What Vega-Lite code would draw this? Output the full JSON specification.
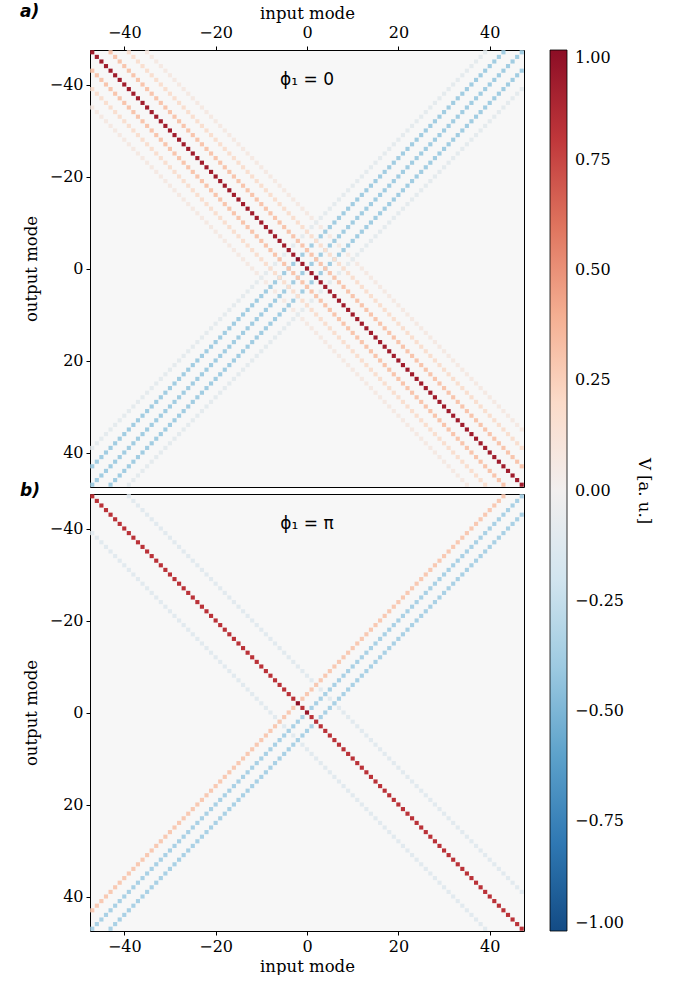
{
"$schema":"https://vega.github.io/schema/vega-lite/v6.json",
"padding":{"left":19,"top":2,"right":12,"bottom":0},
"bounds":"flush",
"spacing":7,
"background":"white",
"config":{
"view":{"fill":"#f7f7f7","stroke":"#000000","strokeWidth":1},
"axis":{"labelFont":"DejaVu Serif","titleFont":"DejaVu Serif","labelFontSize":16,"titleFontSize":16.5,"titleFontWeight":"normal","labelColor":"#000","titleColor":"#000","tickColor":"#000","tickSize":4,"tickWidth":1,"domain":false,"grid":false,"labelPadding":3,"titlePadding":4},
"legend":{"labelFont":"DejaVu Serif","labelFontSize":16,"labelColor":"#000","titleFont":"DejaVu Serif","titleFontSize":16.5,"titleFontWeight":"normal","titleColor":"#000","padding":0}
},
"datasets":{
"a":[
{"i":-35,"o":-47,"v":0.06},{"i":-34,"o":-46,"v":0.06},{"i":-33,"o":-45,"v":0.06},{"i":-32,"o":-44,"v":0.06},{"i":-31,"o":-43,"v":0.06},{"i":-30,"o":-42,"v":0.06},{"i":-29,"o":-41,"v":0.06},{"i":-28,"o":-40,"v":0.06},{"i":-27,"o":-39,"v":0.06},{"i":-26,"o":-38,"v":0.06},{"i":-25,"o":-37,"v":0.06},{"i":-24,"o":-36,"v":0.06},{"i":-23,"o":-35,"v":0.06},{"i":-22,"o":-34,"v":0.06},{"i":-21,"o":-33,"v":0.06},{"i":-20,"o":-32,"v":0.06},{"i":-19,"o":-31,"v":0.06},{"i":-18,"o":-30,"v":0.06},{"i":-17,"o":-29,"v":0.06},{"i":-16,"o":-28,"v":0.06},{"i":-15,"o":-27,"v":0.06},{"i":-14,"o":-26,"v":0.06},{"i":-13,"o":-25,"v":0.06},{"i":-12,"o":-24,"v":0.06},{"i":-11,"o":-23,"v":0.06},{"i":-10,"o":-22,"v":0.06},{"i":-9,"o":-21,"v":0.06},{"i":-8,"o":-20,"v":0.06},{"i":-7,"o":-19,"v":0.06},{"i":-6,"o":-18,"v":0.06},{"i":-5,"o":-17,"v":0.06},{"i":-4,"o":-16,"v":0.06},{"i":-3,"o":-15,"v":0.06},{"i":-2,"o":-14,"v":0.06},{"i":-1,"o":-13,"v":0.06},{"i":0,"o":-12,"v":0.06},{"i":1,"o":-11,"v":0.06},{"i":2,"o":-10,"v":0.06},{"i":3,"o":-9,"v":0.06},{"i":4,"o":-8,"v":0.06},{"i":5,"o":-7,"v":0.06},{"i":6,"o":-6,"v":0.06},{"i":7,"o":-5,"v":0.06},{"i":8,"o":-4,"v":0.06},{"i":9,"o":-3,"v":0.06},{"i":10,"o":-2,"v":0.06},{"i":11,"o":-1,"v":0.06},{"i":12,"o":0,"v":0.06},{"i":13,"o":1,"v":0.06},{"i":14,"o":2,"v":0.06},{"i":15,"o":3,"v":0.06},{"i":16,"o":4,"v":0.06},{"i":17,"o":5,"v":0.06},{"i":18,"o":6,"v":0.06},{"i":19,"o":7,"v":0.06},{"i":20,"o":8,"v":0.06},{"i":21,"o":9,"v":0.06},{"i":22,"o":10,"v":0.06},{"i":23,"o":11,"v":0.06},{"i":24,"o":12,"v":0.06},{"i":25,"o":13,"v":0.06},{"i":26,"o":14,"v":0.06},{"i":27,"o":15,"v":0.06},{"i":28,"o":16,"v":0.06},{"i":29,"o":17,"v":0.06},{"i":30,"o":18,"v":0.06},{"i":31,"o":19,"v":0.06},{"i":32,"o":20,"v":0.06},{"i":33,"o":21,"v":0.06},{"i":34,"o":22,"v":0.06},{"i":35,"o":23,"v":0.06},{"i":36,"o":24,"v":0.06},{"i":37,"o":25,"v":0.06},{"i":38,"o":26,"v":0.06},{"i":39,"o":27,"v":0.06},{"i":40,"o":28,"v":0.06},{"i":41,"o":29,"v":0.06},{"i":42,"o":30,"v":0.06},{"i":43,"o":31,"v":0.06},{"i":44,"o":32,"v":0.06},{"i":45,"o":33,"v":0.06},{"i":46,"o":34,"v":0.06},{"i":47,"o":35,"v":0.06},
{"i":-47,"o":-35,"v":0.06},{"i":-46,"o":-34,"v":0.06},{"i":-45,"o":-33,"v":0.06},{"i":-44,"o":-32,"v":0.06},{"i":-43,"o":-31,"v":0.06},{"i":-42,"o":-30,"v":0.06},{"i":-41,"o":-29,"v":0.06},{"i":-40,"o":-28,"v":0.06},{"i":-39,"o":-27,"v":0.06},{"i":-38,"o":-26,"v":0.06},{"i":-37,"o":-25,"v":0.06},{"i":-36,"o":-24,"v":0.06},{"i":-35,"o":-23,"v":0.06},{"i":-34,"o":-22,"v":0.06},{"i":-33,"o":-21,"v":0.06},{"i":-32,"o":-20,"v":0.06},{"i":-31,"o":-19,"v":0.06},{"i":-30,"o":-18,"v":0.06},{"i":-29,"o":-17,"v":0.06},{"i":-28,"o":-16,"v":0.06},{"i":-27,"o":-15,"v":0.06},{"i":-26,"o":-14,"v":0.06},{"i":-25,"o":-13,"v":0.06},{"i":-24,"o":-12,"v":0.06},{"i":-23,"o":-11,"v":0.06},{"i":-22,"o":-10,"v":0.06},{"i":-21,"o":-9,"v":0.06},{"i":-20,"o":-8,"v":0.06},{"i":-19,"o":-7,"v":0.06},{"i":-18,"o":-6,"v":0.06},{"i":-17,"o":-5,"v":0.06},{"i":-16,"o":-4,"v":0.06},{"i":-15,"o":-3,"v":0.06},{"i":-14,"o":-2,"v":0.06},{"i":-13,"o":-1,"v":0.06},{"i":-12,"o":0,"v":0.06},{"i":-11,"o":1,"v":0.06},{"i":-10,"o":2,"v":0.06},{"i":-9,"o":3,"v":0.06},{"i":-8,"o":4,"v":0.06},{"i":-7,"o":5,"v":0.06},{"i":-6,"o":6,"v":0.06},{"i":-5,"o":7,"v":0.06},{"i":-4,"o":8,"v":0.06},{"i":-3,"o":9,"v":0.06},{"i":-2,"o":10,"v":0.06},{"i":-1,"o":11,"v":0.06},{"i":0,"o":12,"v":0.06},{"i":1,"o":13,"v":0.06},{"i":2,"o":14,"v":0.06},{"i":3,"o":15,"v":0.06},{"i":4,"o":16,"v":0.06},{"i":5,"o":17,"v":0.06},{"i":6,"o":18,"v":0.06},{"i":7,"o":19,"v":0.06},{"i":8,"o":20,"v":0.06},{"i":9,"o":21,"v":0.06},{"i":10,"o":22,"v":0.06},{"i":11,"o":23,"v":0.06},{"i":12,"o":24,"v":0.06},{"i":13,"o":25,"v":0.06},{"i":14,"o":26,"v":0.06},{"i":15,"o":27,"v":0.06},{"i":16,"o":28,"v":0.06},{"i":17,"o":29,"v":0.06},{"i":18,"o":30,"v":0.06},{"i":19,"o":31,"v":0.06},{"i":20,"o":32,"v":0.06},{"i":21,"o":33,"v":0.06},{"i":22,"o":34,"v":0.06},{"i":23,"o":35,"v":0.06},{"i":24,"o":36,"v":0.06},{"i":25,"o":37,"v":0.06},{"i":26,"o":38,"v":0.06},{"i":27,"o":39,"v":0.06},{"i":28,"o":40,"v":0.06},{"i":29,"o":41,"v":0.06},{"i":30,"o":42,"v":0.06},{"i":31,"o":43,"v":0.06},{"i":32,"o":44,"v":0.06},{"i":33,"o":45,"v":0.06},{"i":34,"o":46,"v":0.06},{"i":35,"o":47,"v":0.06},
{"i":-47,"o":39,"v":-0.08},{"i":-46,"o":38,"v":-0.08},{"i":-45,"o":37,"v":-0.08},{"i":-44,"o":36,"v":-0.08},{"i":-43,"o":35,"v":-0.08},{"i":-42,"o":34,"v":-0.08},{"i":-41,"o":33,"v":-0.08},{"i":-40,"o":32,"v":-0.08},{"i":-39,"o":31,"v":-0.08},{"i":-38,"o":30,"v":-0.08},{"i":-37,"o":29,"v":-0.08},{"i":-36,"o":28,"v":-0.08},{"i":-35,"o":27,"v":-0.08},{"i":-34,"o":26,"v":-0.08},{"i":-33,"o":25,"v":-0.08},{"i":-32,"o":24,"v":-0.08},{"i":-31,"o":23,"v":-0.08},{"i":-30,"o":22,"v":-0.08},{"i":-29,"o":21,"v":-0.08},{"i":-28,"o":20,"v":-0.08},{"i":-27,"o":19,"v":-0.08},{"i":-26,"o":18,"v":-0.08},{"i":-25,"o":17,"v":-0.08},{"i":-24,"o":16,"v":-0.08},{"i":-23,"o":15,"v":-0.08},{"i":-22,"o":14,"v":-0.08},{"i":-21,"o":13,"v":-0.08},{"i":-20,"o":12,"v":-0.08},{"i":-19,"o":11,"v":-0.08},{"i":-18,"o":10,"v":-0.08},{"i":-17,"o":9,"v":-0.08},{"i":-16,"o":8,"v":-0.08},{"i":-15,"o":7,"v":-0.08},{"i":-14,"o":6,"v":-0.08},{"i":-13,"o":5,"v":-0.08},{"i":-12,"o":4,"v":-0.08},{"i":-11,"o":3,"v":-0.08},{"i":-10,"o":2,"v":-0.08},{"i":-9,"o":1,"v":-0.08},{"i":-8,"o":0,"v":-0.08},{"i":-7,"o":-1,"v":-0.08},{"i":-6,"o":-2,"v":-0.08},{"i":-5,"o":-3,"v":-0.08},{"i":-4,"o":-4,"v":-0.08},{"i":-3,"o":-5,"v":-0.08},{"i":-2,"o":-6,"v":-0.08},{"i":-1,"o":-7,"v":-0.08},{"i":0,"o":-8,"v":-0.08},{"i":1,"o":-9,"v":-0.08},{"i":2,"o":-10,"v":-0.08},{"i":3,"o":-11,"v":-0.08},{"i":4,"o":-12,"v":-0.08},{"i":5,"o":-13,"v":-0.08},{"i":6,"o":-14,"v":-0.08},{"i":7,"o":-15,"v":-0.08},{"i":8,"o":-16,"v":-0.08},{"i":9,"o":-17,"v":-0.08},{"i":10,"o":-18,"v":-0.08},{"i":11,"o":-19,"v":-0.08},{"i":12,"o":-20,"v":-0.08},{"i":13,"o":-21,"v":-0.08},{"i":14,"o":-22,"v":-0.08},{"i":15,"o":-23,"v":-0.08},{"i":16,"o":-24,"v":-0.08},{"i":17,"o":-25,"v":-0.08},{"i":18,"o":-26,"v":-0.08},{"i":19,"o":-27,"v":-0.08},{"i":20,"o":-28,"v":-0.08},{"i":21,"o":-29,"v":-0.08},{"i":22,"o":-30,"v":-0.08},{"i":23,"o":-31,"v":-0.08},{"i":24,"o":-32,"v":-0.08},{"i":25,"o":-33,"v":-0.08},{"i":26,"o":-34,"v":-0.08},{"i":27,"o":-35,"v":-0.08},{"i":28,"o":-36,"v":-0.08},{"i":29,"o":-37,"v":-0.08},{"i":30,"o":-38,"v":-0.08},{"i":31,"o":-39,"v":-0.08},{"i":32,"o":-40,"v":-0.08},{"i":33,"o":-41,"v":-0.08},{"i":34,"o":-42,"v":-0.08},{"i":35,"o":-43,"v":-0.08},{"i":36,"o":-44,"v":-0.08},{"i":37,"o":-45,"v":-0.08},{"i":38,"o":-46,"v":-0.08},{"i":39,"o":-47,"v":-0.08},
{"i":-39,"o":47,"v":-0.08},{"i":-38,"o":46,"v":-0.08},{"i":-37,"o":45,"v":-0.08},{"i":-36,"o":44,"v":-0.08},{"i":-35,"o":43,"v":-0.08},{"i":-34,"o":42,"v":-0.08},{"i":-33,"o":41,"v":-0.08},{"i":-32,"o":40,"v":-0.08},{"i":-31,"o":39,"v":-0.08},{"i":-30,"o":38,"v":-0.08},{"i":-29,"o":37,"v":-0.08},{"i":-28,"o":36,"v":-0.08},{"i":-27,"o":35,"v":-0.08},{"i":-26,"o":34,"v":-0.08},{"i":-25,"o":33,"v":-0.08},{"i":-24,"o":32,"v":-0.08},{"i":-23,"o":31,"v":-0.08},{"i":-22,"o":30,"v":-0.08},{"i":-21,"o":29,"v":-0.08},{"i":-20,"o":28,"v":-0.08},{"i":-19,"o":27,"v":-0.08},{"i":-18,"o":26,"v":-0.08},{"i":-17,"o":25,"v":-0.08},{"i":-16,"o":24,"v":-0.08},{"i":-15,"o":23,"v":-0.08},{"i":-14,"o":22,"v":-0.08},{"i":-13,"o":21,"v":-0.08},{"i":-12,"o":20,"v":-0.08},{"i":-11,"o":19,"v":-0.08},{"i":-10,"o":18,"v":-0.08},{"i":-9,"o":17,"v":-0.08},{"i":-8,"o":16,"v":-0.08},{"i":-7,"o":15,"v":-0.08},{"i":-6,"o":14,"v":-0.08},{"i":-5,"o":13,"v":-0.08},{"i":-4,"o":12,"v":-0.08},{"i":-3,"o":11,"v":-0.08},{"i":-2,"o":10,"v":-0.08},{"i":-1,"o":9,"v":-0.08},{"i":0,"o":8,"v":-0.08},{"i":1,"o":7,"v":-0.08},{"i":2,"o":6,"v":-0.08},{"i":3,"o":5,"v":-0.08},{"i":4,"o":4,"v":-0.08},{"i":5,"o":3,"v":-0.08},{"i":6,"o":2,"v":-0.08},{"i":7,"o":1,"v":-0.08},{"i":8,"o":0,"v":-0.08},{"i":9,"o":-1,"v":-0.08},{"i":10,"o":-2,"v":-0.08},{"i":11,"o":-3,"v":-0.08},{"i":12,"o":-4,"v":-0.08},{"i":13,"o":-5,"v":-0.08},{"i":14,"o":-6,"v":-0.08},{"i":15,"o":-7,"v":-0.08},{"i":16,"o":-8,"v":-0.08},{"i":17,"o":-9,"v":-0.08},{"i":18,"o":-10,"v":-0.08},{"i":19,"o":-11,"v":-0.08},{"i":20,"o":-12,"v":-0.08},{"i":21,"o":-13,"v":-0.08},{"i":22,"o":-14,"v":-0.08},{"i":23,"o":-15,"v":-0.08},{"i":24,"o":-16,"v":-0.08},{"i":25,"o":-17,"v":-0.08},{"i":26,"o":-18,"v":-0.08},{"i":27,"o":-19,"v":-0.08},{"i":28,"o":-20,"v":-0.08},{"i":29,"o":-21,"v":-0.08},{"i":30,"o":-22,"v":-0.08},{"i":31,"o":-23,"v":-0.08},{"i":32,"o":-24,"v":-0.08},{"i":33,"o":-25,"v":-0.08},{"i":34,"o":-26,"v":-0.08},{"i":35,"o":-27,"v":-0.08},{"i":36,"o":-28,"v":-0.08},{"i":37,"o":-29,"v":-0.08},{"i":38,"o":-30,"v":-0.08},{"i":39,"o":-31,"v":-0.08},{"i":40,"o":-32,"v":-0.08},{"i":41,"o":-33,"v":-0.08},{"i":42,"o":-34,"v":-0.08},{"i":43,"o":-35,"v":-0.08},{"i":44,"o":-36,"v":-0.08},{"i":45,"o":-37,"v":-0.08},{"i":46,"o":-38,"v":-0.08},{"i":47,"o":-39,"v":-0.08},
{"i":-47,"o":43,"v":-0.38},{"i":-46,"o":42,"v":-0.38},{"i":-45,"o":41,"v":-0.38},{"i":-44,"o":40,"v":-0.38},{"i":-43,"o":39,"v":-0.38},{"i":-42,"o":38,"v":-0.38},{"i":-41,"o":37,"v":-0.38},{"i":-40,"o":36,"v":-0.38},{"i":-39,"o":35,"v":-0.38},{"i":-38,"o":34,"v":-0.38},{"i":-37,"o":33,"v":-0.38},{"i":-36,"o":32,"v":-0.38},{"i":-35,"o":31,"v":-0.38},{"i":-34,"o":30,"v":-0.38},{"i":-33,"o":29,"v":-0.38},{"i":-32,"o":28,"v":-0.38},{"i":-31,"o":27,"v":-0.38},{"i":-30,"o":26,"v":-0.38},{"i":-29,"o":25,"v":-0.38},{"i":-28,"o":24,"v":-0.38},{"i":-27,"o":23,"v":-0.38},{"i":-26,"o":22,"v":-0.38},{"i":-25,"o":21,"v":-0.38},{"i":-24,"o":20,"v":-0.38},{"i":-23,"o":19,"v":-0.38},{"i":-22,"o":18,"v":-0.38},{"i":-21,"o":17,"v":-0.38},{"i":-20,"o":16,"v":-0.38},{"i":-19,"o":15,"v":-0.38},{"i":-18,"o":14,"v":-0.38},{"i":-17,"o":13,"v":-0.38},{"i":-16,"o":12,"v":-0.38},{"i":-15,"o":11,"v":-0.38},{"i":-14,"o":10,"v":-0.38},{"i":-13,"o":9,"v":-0.38},{"i":-12,"o":8,"v":-0.38},{"i":-11,"o":7,"v":-0.38},{"i":-10,"o":6,"v":-0.38},{"i":-9,"o":5,"v":-0.38},{"i":-8,"o":4,"v":-0.38},{"i":-7,"o":3,"v":-0.38},{"i":-6,"o":2,"v":-0.38},{"i":-5,"o":1,"v":-0.38},{"i":-4,"o":0,"v":-0.38},{"i":-3,"o":-1,"v":-0.38},{"i":-2,"o":-2,"v":-0.38},{"i":-1,"o":-3,"v":-0.38},{"i":0,"o":-4,"v":-0.38},{"i":1,"o":-5,"v":-0.38},{"i":2,"o":-6,"v":-0.38},{"i":3,"o":-7,"v":-0.38},{"i":4,"o":-8,"v":-0.38},{"i":5,"o":-9,"v":-0.38},{"i":6,"o":-10,"v":-0.38},{"i":7,"o":-11,"v":-0.38},{"i":8,"o":-12,"v":-0.38},{"i":9,"o":-13,"v":-0.38},{"i":10,"o":-14,"v":-0.38},{"i":11,"o":-15,"v":-0.38},{"i":12,"o":-16,"v":-0.38},{"i":13,"o":-17,"v":-0.38},{"i":14,"o":-18,"v":-0.38},{"i":15,"o":-19,"v":-0.38},{"i":16,"o":-20,"v":-0.38},{"i":17,"o":-21,"v":-0.38},{"i":18,"o":-22,"v":-0.38},{"i":19,"o":-23,"v":-0.38},{"i":20,"o":-24,"v":-0.38},{"i":21,"o":-25,"v":-0.38},{"i":22,"o":-26,"v":-0.38},{"i":23,"o":-27,"v":-0.38},{"i":24,"o":-28,"v":-0.38},{"i":25,"o":-29,"v":-0.38},{"i":26,"o":-30,"v":-0.38},{"i":27,"o":-31,"v":-0.38},{"i":28,"o":-32,"v":-0.38},{"i":29,"o":-33,"v":-0.38},{"i":30,"o":-34,"v":-0.38},{"i":31,"o":-35,"v":-0.38},{"i":32,"o":-36,"v":-0.38},{"i":33,"o":-37,"v":-0.38},{"i":34,"o":-38,"v":-0.38},{"i":35,"o":-39,"v":-0.38},{"i":36,"o":-40,"v":-0.38},{"i":37,"o":-41,"v":-0.38},{"i":38,"o":-42,"v":-0.38},{"i":39,"o":-43,"v":-0.38},{"i":40,"o":-44,"v":-0.38},{"i":41,"o":-45,"v":-0.38},{"i":42,"o":-46,"v":-0.38},{"i":43,"o":-47,"v":-0.38},
{"i":-47,"o":47,"v":-0.38},{"i":-46,"o":46,"v":-0.38},{"i":-45,"o":45,"v":-0.38},{"i":-44,"o":44,"v":-0.38},{"i":-43,"o":43,"v":-0.38},{"i":-42,"o":42,"v":-0.38},{"i":-41,"o":41,"v":-0.38},{"i":-40,"o":40,"v":-0.38},{"i":-39,"o":39,"v":-0.38},{"i":-38,"o":38,"v":-0.38},{"i":-37,"o":37,"v":-0.38},{"i":-36,"o":36,"v":-0.38},{"i":-35,"o":35,"v":-0.38},{"i":-34,"o":34,"v":-0.38},{"i":-33,"o":33,"v":-0.38},{"i":-32,"o":32,"v":-0.38},{"i":-31,"o":31,"v":-0.38},{"i":-30,"o":30,"v":-0.38},{"i":-29,"o":29,"v":-0.38},{"i":-28,"o":28,"v":-0.38},{"i":-27,"o":27,"v":-0.38},{"i":-26,"o":26,"v":-0.38},{"i":-25,"o":25,"v":-0.38},{"i":-24,"o":24,"v":-0.38},{"i":-23,"o":23,"v":-0.38},{"i":-22,"o":22,"v":-0.38},{"i":-21,"o":21,"v":-0.38},{"i":-20,"o":20,"v":-0.38},{"i":-19,"o":19,"v":-0.38},{"i":-18,"o":18,"v":-0.38},{"i":-17,"o":17,"v":-0.38},{"i":-16,"o":16,"v":-0.38},{"i":-15,"o":15,"v":-0.38},{"i":-14,"o":14,"v":-0.38},{"i":-13,"o":13,"v":-0.38},{"i":-12,"o":12,"v":-0.38},{"i":-11,"o":11,"v":-0.38},{"i":-10,"o":10,"v":-0.38},{"i":-9,"o":9,"v":-0.38},{"i":-8,"o":8,"v":-0.38},{"i":-7,"o":7,"v":-0.38},{"i":-6,"o":6,"v":-0.38},{"i":-5,"o":5,"v":-0.38},{"i":-4,"o":4,"v":-0.38},{"i":-3,"o":3,"v":-0.38},{"i":-2,"o":2,"v":-0.38},{"i":-1,"o":1,"v":-0.38},{"i":0,"o":0,"v":-0.38},{"i":1,"o":-1,"v":-0.38},{"i":2,"o":-2,"v":-0.38},{"i":3,"o":-3,"v":-0.38},{"i":4,"o":-4,"v":-0.38},{"i":5,"o":-5,"v":-0.38},{"i":6,"o":-6,"v":-0.38},{"i":7,"o":-7,"v":-0.38},{"i":8,"o":-8,"v":-0.38},{"i":9,"o":-9,"v":-0.38},{"i":10,"o":-10,"v":-0.38},{"i":11,"o":-11,"v":-0.38},{"i":12,"o":-12,"v":-0.38},{"i":13,"o":-13,"v":-0.38},{"i":14,"o":-14,"v":-0.38},{"i":15,"o":-15,"v":-0.38},{"i":16,"o":-16,"v":-0.38},{"i":17,"o":-17,"v":-0.38},{"i":18,"o":-18,"v":-0.38},{"i":19,"o":-19,"v":-0.38},{"i":20,"o":-20,"v":-0.38},{"i":21,"o":-21,"v":-0.38},{"i":22,"o":-22,"v":-0.38},{"i":23,"o":-23,"v":-0.38},{"i":24,"o":-24,"v":-0.38},{"i":25,"o":-25,"v":-0.38},{"i":26,"o":-26,"v":-0.38},{"i":27,"o":-27,"v":-0.38},{"i":28,"o":-28,"v":-0.38},{"i":29,"o":-29,"v":-0.38},{"i":30,"o":-30,"v":-0.38},{"i":31,"o":-31,"v":-0.38},{"i":32,"o":-32,"v":-0.38},{"i":33,"o":-33,"v":-0.38},{"i":34,"o":-34,"v":-0.38},{"i":35,"o":-35,"v":-0.38},{"i":36,"o":-36,"v":-0.38},{"i":37,"o":-37,"v":-0.38},{"i":38,"o":-38,"v":-0.38},{"i":39,"o":-39,"v":-0.38},{"i":40,"o":-40,"v":-0.38},{"i":41,"o":-41,"v":-0.38},{"i":42,"o":-42,"v":-0.38},{"i":43,"o":-43,"v":-0.38},{"i":44,"o":-44,"v":-0.38},{"i":45,"o":-45,"v":-0.38},{"i":46,"o":-46,"v":-0.38},{"i":47,"o":-47,"v":-0.38},
{"i":-43,"o":47,"v":-0.38},{"i":-42,"o":46,"v":-0.38},{"i":-41,"o":45,"v":-0.38},{"i":-40,"o":44,"v":-0.38},{"i":-39,"o":43,"v":-0.38},{"i":-38,"o":42,"v":-0.38},{"i":-37,"o":41,"v":-0.38},{"i":-36,"o":40,"v":-0.38},{"i":-35,"o":39,"v":-0.38},{"i":-34,"o":38,"v":-0.38},{"i":-33,"o":37,"v":-0.38},{"i":-32,"o":36,"v":-0.38},{"i":-31,"o":35,"v":-0.38},{"i":-30,"o":34,"v":-0.38},{"i":-29,"o":33,"v":-0.38},{"i":-28,"o":32,"v":-0.38},{"i":-27,"o":31,"v":-0.38},{"i":-26,"o":30,"v":-0.38},{"i":-25,"o":29,"v":-0.38},{"i":-24,"o":28,"v":-0.38},{"i":-23,"o":27,"v":-0.38},{"i":-22,"o":26,"v":-0.38},{"i":-21,"o":25,"v":-0.38},{"i":-20,"o":24,"v":-0.38},{"i":-19,"o":23,"v":-0.38},{"i":-18,"o":22,"v":-0.38},{"i":-17,"o":21,"v":-0.38},{"i":-16,"o":20,"v":-0.38},{"i":-15,"o":19,"v":-0.38},{"i":-14,"o":18,"v":-0.38},{"i":-13,"o":17,"v":-0.38},{"i":-12,"o":16,"v":-0.38},{"i":-11,"o":15,"v":-0.38},{"i":-10,"o":14,"v":-0.38},{"i":-9,"o":13,"v":-0.38},{"i":-8,"o":12,"v":-0.38},{"i":-7,"o":11,"v":-0.38},{"i":-6,"o":10,"v":-0.38},{"i":-5,"o":9,"v":-0.38},{"i":-4,"o":8,"v":-0.38},{"i":-3,"o":7,"v":-0.38},{"i":-2,"o":6,"v":-0.38},{"i":-1,"o":5,"v":-0.38},{"i":0,"o":4,"v":-0.38},{"i":1,"o":3,"v":-0.38},{"i":2,"o":2,"v":-0.38},{"i":3,"o":1,"v":-0.38},{"i":4,"o":0,"v":-0.38},{"i":5,"o":-1,"v":-0.38},{"i":6,"o":-2,"v":-0.38},{"i":7,"o":-3,"v":-0.38},{"i":8,"o":-4,"v":-0.38},{"i":9,"o":-5,"v":-0.38},{"i":10,"o":-6,"v":-0.38},{"i":11,"o":-7,"v":-0.38},{"i":12,"o":-8,"v":-0.38},{"i":13,"o":-9,"v":-0.38},{"i":14,"o":-10,"v":-0.38},{"i":15,"o":-11,"v":-0.38},{"i":16,"o":-12,"v":-0.38},{"i":17,"o":-13,"v":-0.38},{"i":18,"o":-14,"v":-0.38},{"i":19,"o":-15,"v":-0.38},{"i":20,"o":-16,"v":-0.38},{"i":21,"o":-17,"v":-0.38},{"i":22,"o":-18,"v":-0.38},{"i":23,"o":-19,"v":-0.38},{"i":24,"o":-20,"v":-0.38},{"i":25,"o":-21,"v":-0.38},{"i":26,"o":-22,"v":-0.38},{"i":27,"o":-23,"v":-0.38},{"i":28,"o":-24,"v":-0.38},{"i":29,"o":-25,"v":-0.38},{"i":30,"o":-26,"v":-0.38},{"i":31,"o":-27,"v":-0.38},{"i":32,"o":-28,"v":-0.38},{"i":33,"o":-29,"v":-0.38},{"i":34,"o":-30,"v":-0.38},{"i":35,"o":-31,"v":-0.38},{"i":36,"o":-32,"v":-0.38},{"i":37,"o":-33,"v":-0.38},{"i":38,"o":-34,"v":-0.38},{"i":39,"o":-35,"v":-0.38},{"i":40,"o":-36,"v":-0.38},{"i":41,"o":-37,"v":-0.38},{"i":42,"o":-38,"v":-0.38},{"i":43,"o":-39,"v":-0.38},{"i":44,"o":-40,"v":-0.38},{"i":45,"o":-41,"v":-0.38},{"i":46,"o":-42,"v":-0.38},{"i":47,"o":-43,"v":-0.38},
{"i":-39,"o":-47,"v":0.16},{"i":-38,"o":-46,"v":0.16},{"i":-37,"o":-45,"v":0.16},{"i":-36,"o":-44,"v":0.16},{"i":-35,"o":-43,"v":0.16},{"i":-34,"o":-42,"v":0.16},{"i":-33,"o":-41,"v":0.16},{"i":-32,"o":-40,"v":0.16},{"i":-31,"o":-39,"v":0.16},{"i":-30,"o":-38,"v":0.16},{"i":-29,"o":-37,"v":0.16},{"i":-28,"o":-36,"v":0.16},{"i":-27,"o":-35,"v":0.16},{"i":-26,"o":-34,"v":0.16},{"i":-25,"o":-33,"v":0.16},{"i":-24,"o":-32,"v":0.16},{"i":-23,"o":-31,"v":0.16},{"i":-22,"o":-30,"v":0.16},{"i":-21,"o":-29,"v":0.16},{"i":-20,"o":-28,"v":0.16},{"i":-19,"o":-27,"v":0.16},{"i":-18,"o":-26,"v":0.16},{"i":-17,"o":-25,"v":0.16},{"i":-16,"o":-24,"v":0.16},{"i":-15,"o":-23,"v":0.16},{"i":-14,"o":-22,"v":0.16},{"i":-13,"o":-21,"v":0.16},{"i":-12,"o":-20,"v":0.16},{"i":-11,"o":-19,"v":0.16},{"i":-10,"o":-18,"v":0.16},{"i":-9,"o":-17,"v":0.16},{"i":-8,"o":-16,"v":0.16},{"i":-7,"o":-15,"v":0.16},{"i":-6,"o":-14,"v":0.16},{"i":-5,"o":-13,"v":0.16},{"i":-4,"o":-12,"v":0.16},{"i":-3,"o":-11,"v":0.16},{"i":-2,"o":-10,"v":0.16},{"i":-1,"o":-9,"v":0.16},{"i":0,"o":-8,"v":0.16},{"i":1,"o":-7,"v":0.16},{"i":2,"o":-6,"v":0.16},{"i":3,"o":-5,"v":0.16},{"i":4,"o":-4,"v":0.16},{"i":5,"o":-3,"v":0.16},{"i":6,"o":-2,"v":0.16},{"i":7,"o":-1,"v":0.16},{"i":8,"o":0,"v":0.16},{"i":9,"o":1,"v":0.16},{"i":10,"o":2,"v":0.16},{"i":11,"o":3,"v":0.16},{"i":12,"o":4,"v":0.16},{"i":13,"o":5,"v":0.16},{"i":14,"o":6,"v":0.16},{"i":15,"o":7,"v":0.16},{"i":16,"o":8,"v":0.16},{"i":17,"o":9,"v":0.16},{"i":18,"o":10,"v":0.16},{"i":19,"o":11,"v":0.16},{"i":20,"o":12,"v":0.16},{"i":21,"o":13,"v":0.16},{"i":22,"o":14,"v":0.16},{"i":23,"o":15,"v":0.16},{"i":24,"o":16,"v":0.16},{"i":25,"o":17,"v":0.16},{"i":26,"o":18,"v":0.16},{"i":27,"o":19,"v":0.16},{"i":28,"o":20,"v":0.16},{"i":29,"o":21,"v":0.16},{"i":30,"o":22,"v":0.16},{"i":31,"o":23,"v":0.16},{"i":32,"o":24,"v":0.16},{"i":33,"o":25,"v":0.16},{"i":34,"o":26,"v":0.16},{"i":35,"o":27,"v":0.16},{"i":36,"o":28,"v":0.16},{"i":37,"o":29,"v":0.16},{"i":38,"o":30,"v":0.16},{"i":39,"o":31,"v":0.16},{"i":40,"o":32,"v":0.16},{"i":41,"o":33,"v":0.16},{"i":42,"o":34,"v":0.16},{"i":43,"o":35,"v":0.16},{"i":44,"o":36,"v":0.16},{"i":45,"o":37,"v":0.16},{"i":46,"o":38,"v":0.16},{"i":47,"o":39,"v":0.16},
{"i":-47,"o":-39,"v":0.16},{"i":-46,"o":-38,"v":0.16},{"i":-45,"o":-37,"v":0.16},{"i":-44,"o":-36,"v":0.16},{"i":-43,"o":-35,"v":0.16},{"i":-42,"o":-34,"v":0.16},{"i":-41,"o":-33,"v":0.16},{"i":-40,"o":-32,"v":0.16},{"i":-39,"o":-31,"v":0.16},{"i":-38,"o":-30,"v":0.16},{"i":-37,"o":-29,"v":0.16},{"i":-36,"o":-28,"v":0.16},{"i":-35,"o":-27,"v":0.16},{"i":-34,"o":-26,"v":0.16},{"i":-33,"o":-25,"v":0.16},{"i":-32,"o":-24,"v":0.16},{"i":-31,"o":-23,"v":0.16},{"i":-30,"o":-22,"v":0.16},{"i":-29,"o":-21,"v":0.16},{"i":-28,"o":-20,"v":0.16},{"i":-27,"o":-19,"v":0.16},{"i":-26,"o":-18,"v":0.16},{"i":-25,"o":-17,"v":0.16},{"i":-24,"o":-16,"v":0.16},{"i":-23,"o":-15,"v":0.16},{"i":-22,"o":-14,"v":0.16},{"i":-21,"o":-13,"v":0.16},{"i":-20,"o":-12,"v":0.16},{"i":-19,"o":-11,"v":0.16},{"i":-18,"o":-10,"v":0.16},{"i":-17,"o":-9,"v":0.16},{"i":-16,"o":-8,"v":0.16},{"i":-15,"o":-7,"v":0.16},{"i":-14,"o":-6,"v":0.16},{"i":-13,"o":-5,"v":0.16},{"i":-12,"o":-4,"v":0.16},{"i":-11,"o":-3,"v":0.16},{"i":-10,"o":-2,"v":0.16},{"i":-9,"o":-1,"v":0.16},{"i":-8,"o":0,"v":0.16},{"i":-7,"o":1,"v":0.16},{"i":-6,"o":2,"v":0.16},{"i":-5,"o":3,"v":0.16},{"i":-4,"o":4,"v":0.16},{"i":-3,"o":5,"v":0.16},{"i":-2,"o":6,"v":0.16},{"i":-1,"o":7,"v":0.16},{"i":0,"o":8,"v":0.16},{"i":1,"o":9,"v":0.16},{"i":2,"o":10,"v":0.16},{"i":3,"o":11,"v":0.16},{"i":4,"o":12,"v":0.16},{"i":5,"o":13,"v":0.16},{"i":6,"o":14,"v":0.16},{"i":7,"o":15,"v":0.16},{"i":8,"o":16,"v":0.16},{"i":9,"o":17,"v":0.16},{"i":10,"o":18,"v":0.16},{"i":11,"o":19,"v":0.16},{"i":12,"o":20,"v":0.16},{"i":13,"o":21,"v":0.16},{"i":14,"o":22,"v":0.16},{"i":15,"o":23,"v":0.16},{"i":16,"o":24,"v":0.16},{"i":17,"o":25,"v":0.16},{"i":18,"o":26,"v":0.16},{"i":19,"o":27,"v":0.16},{"i":20,"o":28,"v":0.16},{"i":21,"o":29,"v":0.16},{"i":22,"o":30,"v":0.16},{"i":23,"o":31,"v":0.16},{"i":24,"o":32,"v":0.16},{"i":25,"o":33,"v":0.16},{"i":26,"o":34,"v":0.16},{"i":27,"o":35,"v":0.16},{"i":28,"o":36,"v":0.16},{"i":29,"o":37,"v":0.16},{"i":30,"o":38,"v":0.16},{"i":31,"o":39,"v":0.16},{"i":32,"o":40,"v":0.16},{"i":33,"o":41,"v":0.16},{"i":34,"o":42,"v":0.16},{"i":35,"o":43,"v":0.16},{"i":36,"o":44,"v":0.16},{"i":37,"o":45,"v":0.16},{"i":38,"o":46,"v":0.16},{"i":39,"o":47,"v":0.16},
{"i":-43,"o":-47,"v":0.3},{"i":-42,"o":-46,"v":0.3},{"i":-41,"o":-45,"v":0.3},{"i":-40,"o":-44,"v":0.3},{"i":-39,"o":-43,"v":0.3},{"i":-38,"o":-42,"v":0.3},{"i":-37,"o":-41,"v":0.3},{"i":-36,"o":-40,"v":0.3},{"i":-35,"o":-39,"v":0.3},{"i":-34,"o":-38,"v":0.3},{"i":-33,"o":-37,"v":0.3},{"i":-32,"o":-36,"v":0.3},{"i":-31,"o":-35,"v":0.3},{"i":-30,"o":-34,"v":0.3},{"i":-29,"o":-33,"v":0.3},{"i":-28,"o":-32,"v":0.3},{"i":-27,"o":-31,"v":0.3},{"i":-26,"o":-30,"v":0.3},{"i":-25,"o":-29,"v":0.3},{"i":-24,"o":-28,"v":0.3},{"i":-23,"o":-27,"v":0.3},{"i":-22,"o":-26,"v":0.3},{"i":-21,"o":-25,"v":0.3},{"i":-20,"o":-24,"v":0.3},{"i":-19,"o":-23,"v":0.3},{"i":-18,"o":-22,"v":0.3},{"i":-17,"o":-21,"v":0.3},{"i":-16,"o":-20,"v":0.3},{"i":-15,"o":-19,"v":0.3},{"i":-14,"o":-18,"v":0.3},{"i":-13,"o":-17,"v":0.3},{"i":-12,"o":-16,"v":0.3},{"i":-11,"o":-15,"v":0.3},{"i":-10,"o":-14,"v":0.3},{"i":-9,"o":-13,"v":0.3},{"i":-8,"o":-12,"v":0.3},{"i":-7,"o":-11,"v":0.3},{"i":-6,"o":-10,"v":0.3},{"i":-5,"o":-9,"v":0.3},{"i":-4,"o":-8,"v":0.3},{"i":-3,"o":-7,"v":0.3},{"i":-2,"o":-6,"v":0.3},{"i":-1,"o":-5,"v":0.3},{"i":0,"o":-4,"v":0.3},{"i":1,"o":-3,"v":0.3},{"i":2,"o":-2,"v":0.3},{"i":3,"o":-1,"v":0.3},{"i":4,"o":0,"v":0.3},{"i":5,"o":1,"v":0.3},{"i":6,"o":2,"v":0.3},{"i":7,"o":3,"v":0.3},{"i":8,"o":4,"v":0.3},{"i":9,"o":5,"v":0.3},{"i":10,"o":6,"v":0.3},{"i":11,"o":7,"v":0.3},{"i":12,"o":8,"v":0.3},{"i":13,"o":9,"v":0.3},{"i":14,"o":10,"v":0.3},{"i":15,"o":11,"v":0.3},{"i":16,"o":12,"v":0.3},{"i":17,"o":13,"v":0.3},{"i":18,"o":14,"v":0.3},{"i":19,"o":15,"v":0.3},{"i":20,"o":16,"v":0.3},{"i":21,"o":17,"v":0.3},{"i":22,"o":18,"v":0.3},{"i":23,"o":19,"v":0.3},{"i":24,"o":20,"v":0.3},{"i":25,"o":21,"v":0.3},{"i":26,"o":22,"v":0.3},{"i":27,"o":23,"v":0.3},{"i":28,"o":24,"v":0.3},{"i":29,"o":25,"v":0.3},{"i":30,"o":26,"v":0.3},{"i":31,"o":27,"v":0.3},{"i":32,"o":28,"v":0.3},{"i":33,"o":29,"v":0.3},{"i":34,"o":30,"v":0.3},{"i":35,"o":31,"v":0.3},{"i":36,"o":32,"v":0.3},{"i":37,"o":33,"v":0.3},{"i":38,"o":34,"v":0.3},{"i":39,"o":35,"v":0.3},{"i":40,"o":36,"v":0.3},{"i":41,"o":37,"v":0.3},{"i":42,"o":38,"v":0.3},{"i":43,"o":39,"v":0.3},{"i":44,"o":40,"v":0.3},{"i":45,"o":41,"v":0.3},{"i":46,"o":42,"v":0.3},{"i":47,"o":43,"v":0.3},
{"i":-47,"o":-43,"v":0.3},{"i":-46,"o":-42,"v":0.3},{"i":-45,"o":-41,"v":0.3},{"i":-44,"o":-40,"v":0.3},{"i":-43,"o":-39,"v":0.3},{"i":-42,"o":-38,"v":0.3},{"i":-41,"o":-37,"v":0.3},{"i":-40,"o":-36,"v":0.3},{"i":-39,"o":-35,"v":0.3},{"i":-38,"o":-34,"v":0.3},{"i":-37,"o":-33,"v":0.3},{"i":-36,"o":-32,"v":0.3},{"i":-35,"o":-31,"v":0.3},{"i":-34,"o":-30,"v":0.3},{"i":-33,"o":-29,"v":0.3},{"i":-32,"o":-28,"v":0.3},{"i":-31,"o":-27,"v":0.3},{"i":-30,"o":-26,"v":0.3},{"i":-29,"o":-25,"v":0.3},{"i":-28,"o":-24,"v":0.3},{"i":-27,"o":-23,"v":0.3},{"i":-26,"o":-22,"v":0.3},{"i":-25,"o":-21,"v":0.3},{"i":-24,"o":-20,"v":0.3},{"i":-23,"o":-19,"v":0.3},{"i":-22,"o":-18,"v":0.3},{"i":-21,"o":-17,"v":0.3},{"i":-20,"o":-16,"v":0.3},{"i":-19,"o":-15,"v":0.3},{"i":-18,"o":-14,"v":0.3},{"i":-17,"o":-13,"v":0.3},{"i":-16,"o":-12,"v":0.3},{"i":-15,"o":-11,"v":0.3},{"i":-14,"o":-10,"v":0.3},{"i":-13,"o":-9,"v":0.3},{"i":-12,"o":-8,"v":0.3},{"i":-11,"o":-7,"v":0.3},{"i":-10,"o":-6,"v":0.3},{"i":-9,"o":-5,"v":0.3},{"i":-8,"o":-4,"v":0.3},{"i":-7,"o":-3,"v":0.3},{"i":-6,"o":-2,"v":0.3},{"i":-5,"o":-1,"v":0.3},{"i":-4,"o":0,"v":0.3},{"i":-3,"o":1,"v":0.3},{"i":-2,"o":2,"v":0.3},{"i":-1,"o":3,"v":0.3},{"i":0,"o":4,"v":0.3},{"i":1,"o":5,"v":0.3},{"i":2,"o":6,"v":0.3},{"i":3,"o":7,"v":0.3},{"i":4,"o":8,"v":0.3},{"i":5,"o":9,"v":0.3},{"i":6,"o":10,"v":0.3},{"i":7,"o":11,"v":0.3},{"i":8,"o":12,"v":0.3},{"i":9,"o":13,"v":0.3},{"i":10,"o":14,"v":0.3},{"i":11,"o":15,"v":0.3},{"i":12,"o":16,"v":0.3},{"i":13,"o":17,"v":0.3},{"i":14,"o":18,"v":0.3},{"i":15,"o":19,"v":0.3},{"i":16,"o":20,"v":0.3},{"i":17,"o":21,"v":0.3},{"i":18,"o":22,"v":0.3},{"i":19,"o":23,"v":0.3},{"i":20,"o":24,"v":0.3},{"i":21,"o":25,"v":0.3},{"i":22,"o":26,"v":0.3},{"i":23,"o":27,"v":0.3},{"i":24,"o":28,"v":0.3},{"i":25,"o":29,"v":0.3},{"i":26,"o":30,"v":0.3},{"i":27,"o":31,"v":0.3},{"i":28,"o":32,"v":0.3},{"i":29,"o":33,"v":0.3},{"i":30,"o":34,"v":0.3},{"i":31,"o":35,"v":0.3},{"i":32,"o":36,"v":0.3},{"i":33,"o":37,"v":0.3},{"i":34,"o":38,"v":0.3},{"i":35,"o":39,"v":0.3},{"i":36,"o":40,"v":0.3},{"i":37,"o":41,"v":0.3},{"i":38,"o":42,"v":0.3},{"i":39,"o":43,"v":0.3},{"i":40,"o":44,"v":0.3},{"i":41,"o":45,"v":0.3},{"i":42,"o":46,"v":0.3},{"i":43,"o":47,"v":0.3},
{"i":-47,"o":-47,"v":0.92},{"i":-46,"o":-46,"v":0.92},{"i":-45,"o":-45,"v":0.92},{"i":-44,"o":-44,"v":0.92},{"i":-43,"o":-43,"v":0.92},{"i":-42,"o":-42,"v":0.92},{"i":-41,"o":-41,"v":0.92},{"i":-40,"o":-40,"v":0.92},{"i":-39,"o":-39,"v":0.92},{"i":-38,"o":-38,"v":0.92},{"i":-37,"o":-37,"v":0.92},{"i":-36,"o":-36,"v":0.92},{"i":-35,"o":-35,"v":0.92},{"i":-34,"o":-34,"v":0.92},{"i":-33,"o":-33,"v":0.92},{"i":-32,"o":-32,"v":0.92},{"i":-31,"o":-31,"v":0.92},{"i":-30,"o":-30,"v":0.92},{"i":-29,"o":-29,"v":0.92},{"i":-28,"o":-28,"v":0.92},{"i":-27,"o":-27,"v":0.92},{"i":-26,"o":-26,"v":0.92},{"i":-25,"o":-25,"v":0.92},{"i":-24,"o":-24,"v":0.92},{"i":-23,"o":-23,"v":0.92},{"i":-22,"o":-22,"v":0.92},{"i":-21,"o":-21,"v":0.92},{"i":-20,"o":-20,"v":0.92},{"i":-19,"o":-19,"v":0.92},{"i":-18,"o":-18,"v":0.92},{"i":-17,"o":-17,"v":0.92},{"i":-16,"o":-16,"v":0.92},{"i":-15,"o":-15,"v":0.92},{"i":-14,"o":-14,"v":0.92},{"i":-13,"o":-13,"v":0.92},{"i":-12,"o":-12,"v":0.92},{"i":-11,"o":-11,"v":0.92},{"i":-10,"o":-10,"v":0.92},{"i":-9,"o":-9,"v":0.92},{"i":-8,"o":-8,"v":0.92},{"i":-7,"o":-7,"v":0.92},{"i":-6,"o":-6,"v":0.92},{"i":-5,"o":-5,"v":0.92},{"i":-4,"o":-4,"v":0.92},{"i":-3,"o":-3,"v":0.92},{"i":-2,"o":-2,"v":1.0},{"i":-1,"o":-1,"v":0.92},{"i":0,"o":0,"v":0.92},{"i":1,"o":1,"v":0.92},{"i":2,"o":2,"v":1.0},{"i":3,"o":3,"v":0.92},{"i":4,"o":4,"v":0.92},{"i":5,"o":5,"v":0.92},{"i":6,"o":6,"v":0.92},{"i":7,"o":7,"v":0.92},{"i":8,"o":8,"v":0.92},{"i":9,"o":9,"v":0.92},{"i":10,"o":10,"v":0.92},{"i":11,"o":11,"v":0.92},{"i":12,"o":12,"v":0.92},{"i":13,"o":13,"v":0.92},{"i":14,"o":14,"v":0.92},{"i":15,"o":15,"v":0.92},{"i":16,"o":16,"v":0.92},{"i":17,"o":17,"v":0.92},{"i":18,"o":18,"v":0.92},{"i":19,"o":19,"v":0.92},{"i":20,"o":20,"v":0.92},{"i":21,"o":21,"v":0.92},{"i":22,"o":22,"v":0.92},{"i":23,"o":23,"v":0.92},{"i":24,"o":24,"v":0.92},{"i":25,"o":25,"v":0.92},{"i":26,"o":26,"v":0.92},{"i":27,"o":27,"v":0.92},{"i":28,"o":28,"v":0.92},{"i":29,"o":29,"v":0.92},{"i":30,"o":30,"v":0.92},{"i":31,"o":31,"v":0.92},{"i":32,"o":32,"v":0.92},{"i":33,"o":33,"v":0.92},{"i":34,"o":34,"v":0.92},{"i":35,"o":35,"v":0.92},{"i":36,"o":36,"v":0.92},{"i":37,"o":37,"v":0.92},{"i":38,"o":38,"v":0.92},{"i":39,"o":39,"v":0.92},{"i":40,"o":40,"v":0.92},{"i":41,"o":41,"v":0.92},{"i":42,"o":42,"v":0.92},{"i":43,"o":43,"v":0.92},{"i":44,"o":44,"v":0.92},{"i":45,"o":45,"v":0.92},{"i":46,"o":46,"v":0.92},{"i":47,"o":47,"v":0.92}
],
"b":[
{"i":-39,"o":-47,"v":-0.1},{"i":-38,"o":-46,"v":-0.1},{"i":-37,"o":-45,"v":-0.1},{"i":-36,"o":-44,"v":-0.1},{"i":-35,"o":-43,"v":-0.1},{"i":-34,"o":-42,"v":-0.1},{"i":-33,"o":-41,"v":-0.1},{"i":-32,"o":-40,"v":-0.1},{"i":-31,"o":-39,"v":-0.1},{"i":-30,"o":-38,"v":-0.1},{"i":-29,"o":-37,"v":-0.1},{"i":-28,"o":-36,"v":-0.1},{"i":-27,"o":-35,"v":-0.1},{"i":-26,"o":-34,"v":-0.1},{"i":-25,"o":-33,"v":-0.1},{"i":-24,"o":-32,"v":-0.1},{"i":-23,"o":-31,"v":-0.1},{"i":-22,"o":-30,"v":-0.1},{"i":-21,"o":-29,"v":-0.1},{"i":-20,"o":-28,"v":-0.1},{"i":-19,"o":-27,"v":-0.1},{"i":-18,"o":-26,"v":-0.1},{"i":-17,"o":-25,"v":-0.1},{"i":-16,"o":-24,"v":-0.1},{"i":-15,"o":-23,"v":-0.1},{"i":-14,"o":-22,"v":-0.1},{"i":-13,"o":-21,"v":-0.1},{"i":-12,"o":-20,"v":-0.1},{"i":-11,"o":-19,"v":-0.1},{"i":-10,"o":-18,"v":-0.1},{"i":-9,"o":-17,"v":-0.1},{"i":-8,"o":-16,"v":-0.1},{"i":-7,"o":-15,"v":-0.1},{"i":-6,"o":-14,"v":-0.1},{"i":-5,"o":-13,"v":-0.1},{"i":-4,"o":-12,"v":-0.1},{"i":-3,"o":-11,"v":-0.1},{"i":-2,"o":-10,"v":-0.1},{"i":-1,"o":-9,"v":-0.1},{"i":0,"o":-8,"v":-0.1},{"i":1,"o":-7,"v":-0.1},{"i":2,"o":-6,"v":-0.1},{"i":3,"o":-5,"v":-0.1},{"i":4,"o":-4,"v":-0.1},{"i":5,"o":-3,"v":-0.1},{"i":6,"o":-2,"v":-0.1},{"i":7,"o":-1,"v":-0.1},{"i":8,"o":0,"v":-0.1},{"i":9,"o":1,"v":-0.1},{"i":10,"o":2,"v":-0.1},{"i":11,"o":3,"v":-0.1},{"i":12,"o":4,"v":-0.1},{"i":13,"o":5,"v":-0.1},{"i":14,"o":6,"v":-0.1},{"i":15,"o":7,"v":-0.1},{"i":16,"o":8,"v":-0.1},{"i":17,"o":9,"v":-0.1},{"i":18,"o":10,"v":-0.1},{"i":19,"o":11,"v":-0.1},{"i":20,"o":12,"v":-0.1},{"i":21,"o":13,"v":-0.1},{"i":22,"o":14,"v":-0.1},{"i":23,"o":15,"v":-0.1},{"i":24,"o":16,"v":-0.1},{"i":25,"o":17,"v":-0.1},{"i":26,"o":18,"v":-0.1},{"i":27,"o":19,"v":-0.1},{"i":28,"o":20,"v":-0.1},{"i":29,"o":21,"v":-0.1},{"i":30,"o":22,"v":-0.1},{"i":31,"o":23,"v":-0.1},{"i":32,"o":24,"v":-0.1},{"i":33,"o":25,"v":-0.1},{"i":34,"o":26,"v":-0.1},{"i":35,"o":27,"v":-0.1},{"i":36,"o":28,"v":-0.1},{"i":37,"o":29,"v":-0.1},{"i":38,"o":30,"v":-0.1},{"i":39,"o":31,"v":-0.1},{"i":40,"o":32,"v":-0.1},{"i":41,"o":33,"v":-0.1},{"i":42,"o":34,"v":-0.1},{"i":43,"o":35,"v":-0.1},{"i":44,"o":36,"v":-0.1},{"i":45,"o":37,"v":-0.1},{"i":46,"o":38,"v":-0.1},{"i":47,"o":39,"v":-0.1},
{"i":-47,"o":-39,"v":-0.1},{"i":-46,"o":-38,"v":-0.1},{"i":-45,"o":-37,"v":-0.1},{"i":-44,"o":-36,"v":-0.1},{"i":-43,"o":-35,"v":-0.1},{"i":-42,"o":-34,"v":-0.1},{"i":-41,"o":-33,"v":-0.1},{"i":-40,"o":-32,"v":-0.1},{"i":-39,"o":-31,"v":-0.1},{"i":-38,"o":-30,"v":-0.1},{"i":-37,"o":-29,"v":-0.1},{"i":-36,"o":-28,"v":-0.1},{"i":-35,"o":-27,"v":-0.1},{"i":-34,"o":-26,"v":-0.1},{"i":-33,"o":-25,"v":-0.1},{"i":-32,"o":-24,"v":-0.1},{"i":-31,"o":-23,"v":-0.1},{"i":-30,"o":-22,"v":-0.1},{"i":-29,"o":-21,"v":-0.1},{"i":-28,"o":-20,"v":-0.1},{"i":-27,"o":-19,"v":-0.1},{"i":-26,"o":-18,"v":-0.1},{"i":-25,"o":-17,"v":-0.1},{"i":-24,"o":-16,"v":-0.1},{"i":-23,"o":-15,"v":-0.1},{"i":-22,"o":-14,"v":-0.1},{"i":-21,"o":-13,"v":-0.1},{"i":-20,"o":-12,"v":-0.1},{"i":-19,"o":-11,"v":-0.1},{"i":-18,"o":-10,"v":-0.1},{"i":-17,"o":-9,"v":-0.1},{"i":-16,"o":-8,"v":-0.1},{"i":-15,"o":-7,"v":-0.1},{"i":-14,"o":-6,"v":-0.1},{"i":-13,"o":-5,"v":-0.1},{"i":-12,"o":-4,"v":-0.1},{"i":-11,"o":-3,"v":-0.1},{"i":-10,"o":-2,"v":-0.1},{"i":-9,"o":-1,"v":-0.1},{"i":-8,"o":0,"v":-0.1},{"i":-7,"o":1,"v":-0.1},{"i":-6,"o":2,"v":-0.1},{"i":-5,"o":3,"v":-0.1},{"i":-4,"o":4,"v":-0.1},{"i":-3,"o":5,"v":-0.1},{"i":-2,"o":6,"v":-0.1},{"i":-1,"o":7,"v":-0.1},{"i":0,"o":8,"v":-0.1},{"i":1,"o":9,"v":-0.1},{"i":2,"o":10,"v":-0.1},{"i":3,"o":11,"v":-0.1},{"i":4,"o":12,"v":-0.1},{"i":5,"o":13,"v":-0.1},{"i":6,"o":14,"v":-0.1},{"i":7,"o":15,"v":-0.1},{"i":8,"o":16,"v":-0.1},{"i":9,"o":17,"v":-0.1},{"i":10,"o":18,"v":-0.1},{"i":11,"o":19,"v":-0.1},{"i":12,"o":20,"v":-0.1},{"i":13,"o":21,"v":-0.1},{"i":14,"o":22,"v":-0.1},{"i":15,"o":23,"v":-0.1},{"i":16,"o":24,"v":-0.1},{"i":17,"o":25,"v":-0.1},{"i":18,"o":26,"v":-0.1},{"i":19,"o":27,"v":-0.1},{"i":20,"o":28,"v":-0.1},{"i":21,"o":29,"v":-0.1},{"i":22,"o":30,"v":-0.1},{"i":23,"o":31,"v":-0.1},{"i":24,"o":32,"v":-0.1},{"i":25,"o":33,"v":-0.1},{"i":26,"o":34,"v":-0.1},{"i":27,"o":35,"v":-0.1},{"i":28,"o":36,"v":-0.1},{"i":29,"o":37,"v":-0.1},{"i":30,"o":38,"v":-0.1},{"i":31,"o":39,"v":-0.1},{"i":32,"o":40,"v":-0.1},{"i":33,"o":41,"v":-0.1},{"i":34,"o":42,"v":-0.1},{"i":35,"o":43,"v":-0.1},{"i":36,"o":44,"v":-0.1},{"i":37,"o":45,"v":-0.1},{"i":38,"o":46,"v":-0.1},{"i":39,"o":47,"v":-0.1},
{"i":-47,"o":47,"v":-0.35},{"i":-46,"o":46,"v":-0.35},{"i":-45,"o":45,"v":-0.35},{"i":-44,"o":44,"v":-0.35},{"i":-43,"o":43,"v":-0.35},{"i":-42,"o":42,"v":-0.35},{"i":-41,"o":41,"v":-0.35},{"i":-40,"o":40,"v":-0.35},{"i":-39,"o":39,"v":-0.35},{"i":-38,"o":38,"v":-0.35},{"i":-37,"o":37,"v":-0.35},{"i":-36,"o":36,"v":-0.35},{"i":-35,"o":35,"v":-0.35},{"i":-34,"o":34,"v":-0.35},{"i":-33,"o":33,"v":-0.35},{"i":-32,"o":32,"v":-0.35},{"i":-31,"o":31,"v":-0.35},{"i":-30,"o":30,"v":-0.35},{"i":-29,"o":29,"v":-0.35},{"i":-28,"o":28,"v":-0.35},{"i":-27,"o":27,"v":-0.35},{"i":-26,"o":26,"v":-0.35},{"i":-25,"o":25,"v":-0.35},{"i":-24,"o":24,"v":-0.35},{"i":-23,"o":23,"v":-0.35},{"i":-22,"o":22,"v":-0.35},{"i":-21,"o":21,"v":-0.35},{"i":-20,"o":20,"v":-0.35},{"i":-19,"o":19,"v":-0.35},{"i":-18,"o":18,"v":-0.35},{"i":-17,"o":17,"v":-0.35},{"i":-16,"o":16,"v":-0.35},{"i":-15,"o":15,"v":-0.35},{"i":-14,"o":14,"v":-0.35},{"i":-13,"o":13,"v":-0.35},{"i":-12,"o":12,"v":-0.35},{"i":-11,"o":11,"v":-0.35},{"i":-10,"o":10,"v":-0.35},{"i":-9,"o":9,"v":-0.35},{"i":-8,"o":8,"v":-0.35},{"i":-7,"o":7,"v":-0.35},{"i":-6,"o":6,"v":-0.35},{"i":-5,"o":5,"v":-0.35},{"i":-4,"o":4,"v":-0.35},{"i":-3,"o":3,"v":-0.35},{"i":-2,"o":2,"v":-0.35},{"i":-1,"o":1,"v":-0.35},{"i":0,"o":0,"v":-0.35},{"i":1,"o":-1,"v":-0.35},{"i":2,"o":-2,"v":-0.35},{"i":3,"o":-3,"v":-0.35},{"i":4,"o":-4,"v":-0.35},{"i":5,"o":-5,"v":-0.35},{"i":6,"o":-6,"v":-0.35},{"i":7,"o":-7,"v":-0.35},{"i":8,"o":-8,"v":-0.35},{"i":9,"o":-9,"v":-0.35},{"i":10,"o":-10,"v":-0.35},{"i":11,"o":-11,"v":-0.35},{"i":12,"o":-12,"v":-0.35},{"i":13,"o":-13,"v":-0.35},{"i":14,"o":-14,"v":-0.35},{"i":15,"o":-15,"v":-0.35},{"i":16,"o":-16,"v":-0.35},{"i":17,"o":-17,"v":-0.35},{"i":18,"o":-18,"v":-0.35},{"i":19,"o":-19,"v":-0.35},{"i":20,"o":-20,"v":-0.35},{"i":21,"o":-21,"v":-0.35},{"i":22,"o":-22,"v":-0.35},{"i":23,"o":-23,"v":-0.35},{"i":24,"o":-24,"v":-0.35},{"i":25,"o":-25,"v":-0.35},{"i":26,"o":-26,"v":-0.35},{"i":27,"o":-27,"v":-0.35},{"i":28,"o":-28,"v":-0.35},{"i":29,"o":-29,"v":-0.35},{"i":30,"o":-30,"v":-0.35},{"i":31,"o":-31,"v":-0.35},{"i":32,"o":-32,"v":-0.35},{"i":33,"o":-33,"v":-0.35},{"i":34,"o":-34,"v":-0.35},{"i":35,"o":-35,"v":-0.35},{"i":36,"o":-36,"v":-0.35},{"i":37,"o":-37,"v":-0.35},{"i":38,"o":-38,"v":-0.35},{"i":39,"o":-39,"v":-0.35},{"i":40,"o":-40,"v":-0.35},{"i":41,"o":-41,"v":-0.35},{"i":42,"o":-42,"v":-0.35},{"i":43,"o":-43,"v":-0.35},{"i":44,"o":-44,"v":-0.35},{"i":45,"o":-45,"v":-0.35},{"i":46,"o":-46,"v":-0.35},{"i":47,"o":-47,"v":-0.35},
{"i":-43,"o":47,"v":-0.35},{"i":-42,"o":46,"v":-0.35},{"i":-41,"o":45,"v":-0.35},{"i":-40,"o":44,"v":-0.35},{"i":-39,"o":43,"v":-0.35},{"i":-38,"o":42,"v":-0.35},{"i":-37,"o":41,"v":-0.35},{"i":-36,"o":40,"v":-0.35},{"i":-35,"o":39,"v":-0.35},{"i":-34,"o":38,"v":-0.35},{"i":-33,"o":37,"v":-0.35},{"i":-32,"o":36,"v":-0.35},{"i":-31,"o":35,"v":-0.35},{"i":-30,"o":34,"v":-0.35},{"i":-29,"o":33,"v":-0.35},{"i":-28,"o":32,"v":-0.35},{"i":-27,"o":31,"v":-0.35},{"i":-26,"o":30,"v":-0.35},{"i":-25,"o":29,"v":-0.35},{"i":-24,"o":28,"v":-0.35},{"i":-23,"o":27,"v":-0.35},{"i":-22,"o":26,"v":-0.35},{"i":-21,"o":25,"v":-0.35},{"i":-20,"o":24,"v":-0.35},{"i":-19,"o":23,"v":-0.35},{"i":-18,"o":22,"v":-0.35},{"i":-17,"o":21,"v":-0.35},{"i":-16,"o":20,"v":-0.35},{"i":-15,"o":19,"v":-0.35},{"i":-14,"o":18,"v":-0.35},{"i":-13,"o":17,"v":-0.35},{"i":-12,"o":16,"v":-0.35},{"i":-11,"o":15,"v":-0.35},{"i":-10,"o":14,"v":-0.35},{"i":-9,"o":13,"v":-0.35},{"i":-8,"o":12,"v":-0.35},{"i":-7,"o":11,"v":-0.35},{"i":-6,"o":10,"v":-0.35},{"i":-5,"o":9,"v":-0.35},{"i":-4,"o":8,"v":-0.35},{"i":-3,"o":7,"v":-0.35},{"i":-2,"o":6,"v":-0.35},{"i":-1,"o":5,"v":-0.35},{"i":0,"o":4,"v":-0.35},{"i":1,"o":3,"v":-0.35},{"i":2,"o":2,"v":-0.35},{"i":3,"o":1,"v":-0.35},{"i":4,"o":0,"v":-0.35},{"i":5,"o":-1,"v":-0.35},{"i":6,"o":-2,"v":-0.35},{"i":7,"o":-3,"v":-0.35},{"i":8,"o":-4,"v":-0.35},{"i":9,"o":-5,"v":-0.35},{"i":10,"o":-6,"v":-0.35},{"i":11,"o":-7,"v":-0.35},{"i":12,"o":-8,"v":-0.35},{"i":13,"o":-9,"v":-0.35},{"i":14,"o":-10,"v":-0.35},{"i":15,"o":-11,"v":-0.35},{"i":16,"o":-12,"v":-0.35},{"i":17,"o":-13,"v":-0.35},{"i":18,"o":-14,"v":-0.35},{"i":19,"o":-15,"v":-0.35},{"i":20,"o":-16,"v":-0.35},{"i":21,"o":-17,"v":-0.35},{"i":22,"o":-18,"v":-0.35},{"i":23,"o":-19,"v":-0.35},{"i":24,"o":-20,"v":-0.35},{"i":25,"o":-21,"v":-0.35},{"i":26,"o":-22,"v":-0.35},{"i":27,"o":-23,"v":-0.35},{"i":28,"o":-24,"v":-0.35},{"i":29,"o":-25,"v":-0.35},{"i":30,"o":-26,"v":-0.35},{"i":31,"o":-27,"v":-0.35},{"i":32,"o":-28,"v":-0.35},{"i":33,"o":-29,"v":-0.35},{"i":34,"o":-30,"v":-0.35},{"i":35,"o":-31,"v":-0.35},{"i":36,"o":-32,"v":-0.35},{"i":37,"o":-33,"v":-0.35},{"i":38,"o":-34,"v":-0.35},{"i":39,"o":-35,"v":-0.35},{"i":40,"o":-36,"v":-0.35},{"i":41,"o":-37,"v":-0.35},{"i":42,"o":-38,"v":-0.35},{"i":43,"o":-39,"v":-0.35},{"i":44,"o":-40,"v":-0.35},{"i":45,"o":-41,"v":-0.35},{"i":46,"o":-42,"v":-0.35},{"i":47,"o":-43,"v":-0.35},
{"i":-47,"o":43,"v":0.28},{"i":-46,"o":42,"v":0.28},{"i":-45,"o":41,"v":0.28},{"i":-44,"o":40,"v":0.28},{"i":-43,"o":39,"v":0.28},{"i":-42,"o":38,"v":0.28},{"i":-41,"o":37,"v":0.28},{"i":-40,"o":36,"v":0.28},{"i":-39,"o":35,"v":0.28},{"i":-38,"o":34,"v":0.28},{"i":-37,"o":33,"v":0.28},{"i":-36,"o":32,"v":0.28},{"i":-35,"o":31,"v":0.28},{"i":-34,"o":30,"v":0.28},{"i":-33,"o":29,"v":0.28},{"i":-32,"o":28,"v":0.28},{"i":-31,"o":27,"v":0.28},{"i":-30,"o":26,"v":0.28},{"i":-29,"o":25,"v":0.28},{"i":-28,"o":24,"v":0.28},{"i":-27,"o":23,"v":0.28},{"i":-26,"o":22,"v":0.28},{"i":-25,"o":21,"v":0.28},{"i":-24,"o":20,"v":0.28},{"i":-23,"o":19,"v":0.28},{"i":-22,"o":18,"v":0.28},{"i":-21,"o":17,"v":0.28},{"i":-20,"o":16,"v":0.28},{"i":-19,"o":15,"v":0.28},{"i":-18,"o":14,"v":0.28},{"i":-17,"o":13,"v":0.28},{"i":-16,"o":12,"v":0.28},{"i":-15,"o":11,"v":0.28},{"i":-14,"o":10,"v":0.28},{"i":-13,"o":9,"v":0.28},{"i":-12,"o":8,"v":0.28},{"i":-11,"o":7,"v":0.28},{"i":-10,"o":6,"v":0.28},{"i":-9,"o":5,"v":0.28},{"i":-8,"o":4,"v":0.28},{"i":-7,"o":3,"v":0.28},{"i":-6,"o":2,"v":0.28},{"i":-5,"o":1,"v":0.28},{"i":-4,"o":0,"v":0.28},{"i":-3,"o":-1,"v":0.28},{"i":-2,"o":-2,"v":0.28},{"i":-1,"o":-3,"v":0.28},{"i":0,"o":-4,"v":0.28},{"i":1,"o":-5,"v":0.28},{"i":2,"o":-6,"v":0.28},{"i":3,"o":-7,"v":0.28},{"i":4,"o":-8,"v":0.28},{"i":5,"o":-9,"v":0.28},{"i":6,"o":-10,"v":0.28},{"i":7,"o":-11,"v":0.28},{"i":8,"o":-12,"v":0.28},{"i":9,"o":-13,"v":0.28},{"i":10,"o":-14,"v":0.28},{"i":11,"o":-15,"v":0.28},{"i":12,"o":-16,"v":0.28},{"i":13,"o":-17,"v":0.28},{"i":14,"o":-18,"v":0.28},{"i":15,"o":-19,"v":0.28},{"i":16,"o":-20,"v":0.28},{"i":17,"o":-21,"v":0.28},{"i":18,"o":-22,"v":0.28},{"i":19,"o":-23,"v":0.28},{"i":20,"o":-24,"v":0.28},{"i":21,"o":-25,"v":0.28},{"i":22,"o":-26,"v":0.28},{"i":23,"o":-27,"v":0.28},{"i":24,"o":-28,"v":0.28},{"i":25,"o":-29,"v":0.28},{"i":26,"o":-30,"v":0.28},{"i":27,"o":-31,"v":0.28},{"i":28,"o":-32,"v":0.28},{"i":29,"o":-33,"v":0.28},{"i":30,"o":-34,"v":0.28},{"i":31,"o":-35,"v":0.28},{"i":32,"o":-36,"v":0.28},{"i":33,"o":-37,"v":0.28},{"i":34,"o":-38,"v":0.28},{"i":35,"o":-39,"v":0.28},{"i":36,"o":-40,"v":0.28},{"i":37,"o":-41,"v":0.28},{"i":38,"o":-42,"v":0.28},{"i":39,"o":-43,"v":0.28},{"i":40,"o":-44,"v":0.28},{"i":41,"o":-45,"v":0.28},{"i":42,"o":-46,"v":0.28},{"i":43,"o":-47,"v":0.28},
{"i":-47,"o":-47,"v":0.82},{"i":-46,"o":-46,"v":0.82},{"i":-45,"o":-45,"v":0.82},{"i":-44,"o":-44,"v":0.82},{"i":-43,"o":-43,"v":0.82},{"i":-42,"o":-42,"v":0.82},{"i":-41,"o":-41,"v":0.82},{"i":-40,"o":-40,"v":0.82},{"i":-39,"o":-39,"v":0.82},{"i":-38,"o":-38,"v":0.82},{"i":-37,"o":-37,"v":0.82},{"i":-36,"o":-36,"v":0.82},{"i":-35,"o":-35,"v":0.82},{"i":-34,"o":-34,"v":0.82},{"i":-33,"o":-33,"v":0.82},{"i":-32,"o":-32,"v":0.82},{"i":-31,"o":-31,"v":0.82},{"i":-30,"o":-30,"v":0.82},{"i":-29,"o":-29,"v":0.82},{"i":-28,"o":-28,"v":0.82},{"i":-27,"o":-27,"v":0.82},{"i":-26,"o":-26,"v":0.82},{"i":-25,"o":-25,"v":0.82},{"i":-24,"o":-24,"v":0.82},{"i":-23,"o":-23,"v":0.82},{"i":-22,"o":-22,"v":0.82},{"i":-21,"o":-21,"v":0.82},{"i":-20,"o":-20,"v":0.82},{"i":-19,"o":-19,"v":0.82},{"i":-18,"o":-18,"v":0.82},{"i":-17,"o":-17,"v":0.82},{"i":-16,"o":-16,"v":0.82},{"i":-15,"o":-15,"v":0.82},{"i":-14,"o":-14,"v":0.82},{"i":-13,"o":-13,"v":0.82},{"i":-12,"o":-12,"v":0.82},{"i":-11,"o":-11,"v":0.82},{"i":-10,"o":-10,"v":0.82},{"i":-9,"o":-9,"v":0.82},{"i":-8,"o":-8,"v":0.82},{"i":-7,"o":-7,"v":0.82},{"i":-6,"o":-6,"v":0.82},{"i":-5,"o":-5,"v":0.82},{"i":-4,"o":-4,"v":0.82},{"i":-3,"o":-3,"v":0.82},{"i":-2,"o":-2,"v":1.0},{"i":-1,"o":-1,"v":0.82},{"i":0,"o":0,"v":0.95},{"i":1,"o":1,"v":0.82},{"i":2,"o":2,"v":0.82},{"i":3,"o":3,"v":0.82},{"i":4,"o":4,"v":0.82},{"i":5,"o":5,"v":0.82},{"i":6,"o":6,"v":0.82},{"i":7,"o":7,"v":0.82},{"i":8,"o":8,"v":0.82},{"i":9,"o":9,"v":0.82},{"i":10,"o":10,"v":0.82},{"i":11,"o":11,"v":0.82},{"i":12,"o":12,"v":0.82},{"i":13,"o":13,"v":0.82},{"i":14,"o":14,"v":0.82},{"i":15,"o":15,"v":0.82},{"i":16,"o":16,"v":0.82},{"i":17,"o":17,"v":0.82},{"i":18,"o":18,"v":0.82},{"i":19,"o":19,"v":0.82},{"i":20,"o":20,"v":0.82},{"i":21,"o":21,"v":0.82},{"i":22,"o":22,"v":0.82},{"i":23,"o":23,"v":0.82},{"i":24,"o":24,"v":0.82},{"i":25,"o":25,"v":0.82},{"i":26,"o":26,"v":0.82},{"i":27,"o":27,"v":0.82},{"i":28,"o":28,"v":0.82},{"i":29,"o":29,"v":0.82},{"i":30,"o":30,"v":0.82},{"i":31,"o":31,"v":0.82},{"i":32,"o":32,"v":0.82},{"i":33,"o":33,"v":0.82},{"i":34,"o":34,"v":0.82},{"i":35,"o":35,"v":0.82},{"i":36,"o":36,"v":0.82},{"i":37,"o":37,"v":0.82},{"i":38,"o":38,"v":0.82},{"i":39,"o":39,"v":0.82},{"i":40,"o":40,"v":0.82},{"i":41,"o":41,"v":0.82},{"i":42,"o":42,"v":0.82},{"i":43,"o":43,"v":0.82},{"i":44,"o":44,"v":0.82},{"i":45,"o":45,"v":0.82},{"i":46,"o":46,"v":0.82},{"i":47,"o":47,"v":0.82}
]
},
"vconcat":[
{
"width":434,"height":437,
"title":{"text":"a)","anchor":"start","frame":"group","font":"DejaVu Sans","fontSize":17,"fontStyle":"italic","fontWeight":"bold","color":"#000","dx":-70,"offset":-16},
"layer":[
{"data":{"name":"a"},
"mark":{"type":"square","size":17,"opacity":1,"filled":true,"strokeWidth":0},
"encoding":{
"x":{"field":"i","type":"quantitative","scale":{"domain":[-47.5,47.5],"nice":false,"zero":false},"axis":{"orient":"top","values":[-40,-20,0,20,40],"title":"input mode","labelPadding":6,"titlePadding":3}},
"y":{"field":"o","type":"quantitative","scale":{"domain":[-47.5,47.5],"nice":false,"zero":false,"reverse":true},"axis":{"values":[-40,-20,0,20,40],"title":"output mode","titlePadding":10}},
"color":{"field":"v","type":"quantitative","title":"V [a. u.]","scale":{"scheme":"redblue","reverse":true,"domain":[-1,1]},
"legend":{"orient":"right","offset":25,"direction":"vertical","gradientLength":881,"gradientThickness":17,"gradientStrokeColor":"#000","gradientStrokeWidth":0.8,"values":[-1,-0.75,-0.5,-0.25,0,0.25,0.5,0.75,1],"format":".2f","labelOffset":8,"labelOverlap":false,"titleOrient":"right","titleAnchor":"middle","titlePadding":12,"encode":{"labels":{"update":{"dy":{"signal":"datum.perc >= 0.999 ? -8 : datum.perc <= 0.001 ? 8 : 0"}}}}}}
}},
{"data":{"values":[{}]},"mark":{"type":"text","text":"ϕ₁ = 0","font":"DejaVu Sans","fontSize":17,"color":"#000"},"encoding":{"x":{"datum":0},"y":{"datum":-41}}}
]
},
{
"width":434,"height":437,
"title":{"text":"b)","anchor":"start","frame":"group","font":"DejaVu Sans","fontSize":17,"fontStyle":"italic","fontWeight":"bold","color":"#000","dx":-70,"offset":-6},
"layer":[
{"data":{"name":"b"},
"mark":{"type":"square","size":17,"opacity":1,"filled":true,"strokeWidth":0},
"encoding":{
"x":{"field":"i","type":"quantitative","scale":{"domain":[-47.5,47.5],"nice":false,"zero":false},"axis":{"orient":"bottom","values":[-40,-20,0,20,40],"title":"input mode"}},
"y":{"field":"o","type":"quantitative","scale":{"domain":[-47.5,47.5],"nice":false,"zero":false,"reverse":true},"axis":{"values":[-40,-20,0,20,40],"title":"output mode","titlePadding":10}},
"color":{"field":"v","type":"quantitative","title":"V [a. u.]","scale":{"scheme":"redblue","reverse":true,"domain":[-1,1]},
"legend":{"orient":"right","offset":25,"direction":"vertical","gradientLength":881,"gradientThickness":17,"gradientStrokeColor":"#000","gradientStrokeWidth":0.8,"values":[-1,-0.75,-0.5,-0.25,0,0.25,0.5,0.75,1],"format":".2f","labelOffset":8,"labelOverlap":false,"titleOrient":"right","titleAnchor":"middle","titlePadding":12,"encode":{"labels":{"update":{"dy":{"signal":"datum.perc >= 0.999 ? -8 : datum.perc <= 0.001 ? 8 : 0"}}}}}}
}},
{"data":{"values":[{}]},"mark":{"type":"text","text":"ϕ₁ = π","font":"DejaVu Sans","fontSize":17,"color":"#000"},"encoding":{"x":{"datum":0},"y":{"datum":-41}}}
]
}
],
"resolve":{"scale":{"color":"shared"}}
}
